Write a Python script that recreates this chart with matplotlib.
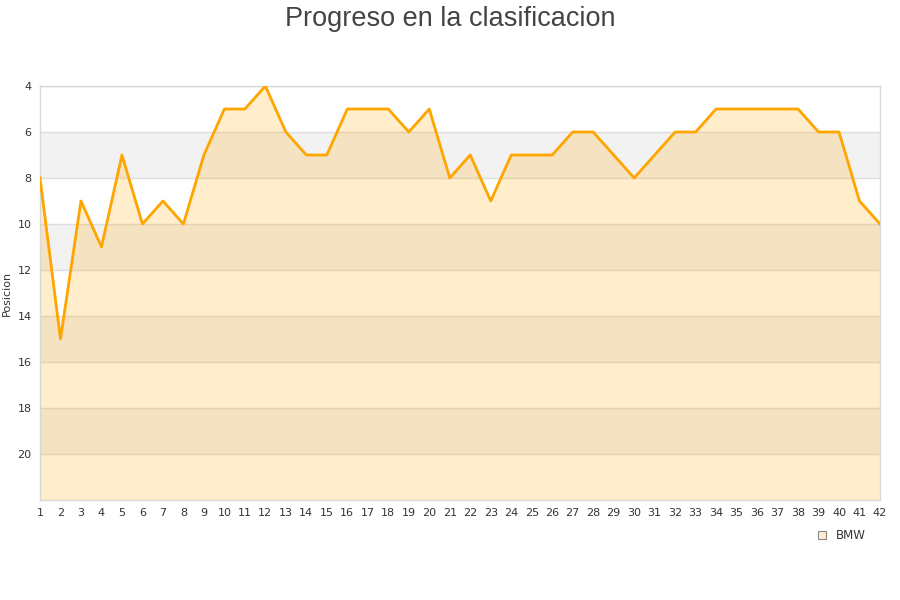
import numpy as np
import matplotlib
matplotlib.use('Agg')
import matplotlib.pyplot as plt
from matplotlib.patches import Rectangle

rounds = list(range(1, 43))
bmw = [8, 15, 9, 11, 7, 10, 9, 10, 7, 5, 5, 4, 6, 7, 7, 5, 5, 5, 6, 5,
       8, 7, 9, 7, 7, 7, 6, 6, 7, 8, 7, 6, 6, 5, 5, 5, 5, 5, 6, 6, 9, 10]
y_ticks = [4, 6, 8, 10, 12, 14, 16, 18, 20]

def main():
    fig = plt.figure(figsize=(9, 6), dpi=100)
    ax = fig.add_axes([40 / 900, 100 / 600, 840 / 900, 414 / 600])

    ymin, ymax = 4, 22
    # alternating bands
    for lo in range(6, ymax, 4):
        ax.axhspan(lo, lo + 2, color='#f2f2f2', zorder=0, lw=0)
    for y in y_ticks:
        ax.axhline(y, color='#dddddd', lw=1, zorder=1)

    ax.fill_between(rounds, bmw, ymax, color='#FFA500', alpha=0.2, lw=0, zorder=2)
    ax.plot(rounds, bmw, color='#FFA500', lw=2, zorder=3, label='BMW')

    ax.set_xlim(1, 42)
    ax.set_ylim(ymax, ymin)
    ax.set_xticks(rounds)
    ax.set_yticks(y_ticks)
    ax.tick_params(length=0, labelsize=8, colors='#333333', pad=6)
    for s in ax.spines.values():
        s.set_color('#d8d8d8')
        s.set_linewidth(1)
    ax.set_ylabel('Posicion', fontsize=8, color='#333333', labelpad=4)

    fig.text(0.5, 0.968, 'Progreso en la clasificacion', ha='center', va='center',
             fontsize=19.5, color='#444444', family='Liberation Sans')

    h = Rectangle((0, 0), 1, 1, facecolor='#ffedcc', edgecolor='#888888', lw=0.8)
    fig.legend([h], ['BMW'], loc='center', bbox_to_anchor=(0.935, 0.107),
               frameon=False, fontsize=8.5, handlelength=0.7, handleheight=0.7,
               handletextpad=0.8, labelcolor='#333333')

    plt.savefig('out.png', dpi=100)

if __name__ == '__main__':
    main()
